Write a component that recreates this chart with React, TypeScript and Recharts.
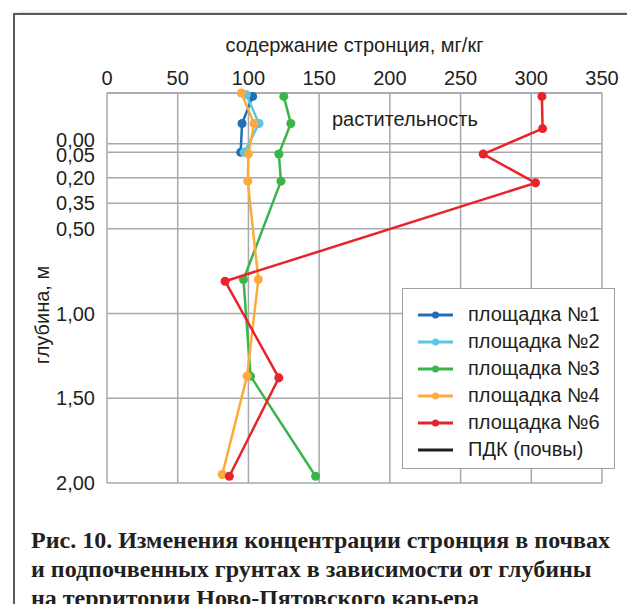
import { ScatterChart, Scatter, XAxis, YAxis, ZAxis, CartesianGrid, Legend } from 'recharts';

const xTicks = [0, 50, 100, 150, 200, 250, 300, 350];
const depthTicks = [0, 0.05, 0.2, 0.35, 0.5, 1, 1.5, 2];

// depth (m) and strontium content (mg/kg) per site; negative depth = vegetation
const depth1 = [-0.28, -0.12, 0.05];
const site1 = [103, 95.5, 94.5];
const depth2 = [-0.29, -0.12, 0.05];
const site2 = [98.5, 107.5, 97];
const depth3 = [-0.28, -0.12, 0.06, 0.22, 0.8, 1.37, 1.96];
const site3 = [125, 130, 121.5, 123, 96.5, 101.5, 147.5];
const depth4 = [-0.3, -0.12, 0.06, 0.22, 0.8, 1.37, 1.95];
const site4 = [95, 104, 100, 99.5, 107, 99, 81.5];
const depth6 = [-0.28, -0.09, 0.06, 0.23, 0.81, 1.38, 1.96];
const site6 = [307.5, 308, 266, 303, 83.5, 121.5, 86.5];

const series = [
  { name: 'площадка №1', color: '#1f70b8', depths: depth1, values: site1 },
  { name: 'площадка №2', color: '#5bc5e6', depths: depth2, values: site2 },
  { name: 'площадка №3', color: '#3bb54a', depths: depth3, values: site3 },
  { name: 'площадка №4', color: '#fbab3c', depths: depth4, values: site4 },
  { name: 'площадка №6', color: '#e8232a', depths: depth6, values: site6 },
];

const legendItems = [
  ...series.map(s => ({ name: s.name, color: s.color, dot: true })),
  { name: 'ПДК (почвы)', color: '#231f20', dot: false },
];

const font = '"Liberation Sans", Arial, sans-serif';
const textColor = '#231f20';
const gridColor = '#a7a9ac';

// 0,00 and 0,05 sit close together, nudge them apart like the original
function DepthTick(props: any) {
  const { x, y, payload } = props;
  const v = Number(payload.value);
  const shift = v === 0 ? -4 : v === 0.05 ? 3 : 0;
  return (
    <text
      x={x}
      y={y + shift}
      dy="0.355em"
      textAnchor="end"
      fontSize={20}
      fontFamily={font}
      fill={textColor}
    >
      {v.toFixed(2).replace('.', ',')}
    </text>
  );
}

function LegendBox() {
  return (
    <div
      style={{
        boxSizing: 'border-box',
        width: 213,
        height: 181,
        background: '#fff',
        border: '1.5px solid #a0a0a0',
        paddingTop: 12,
        fontFamily: font,
        fontSize: 20,
        color: textColor,
      }}
    >
      {legendItems.map(item => (
        <div key={item.name} style={{ display: 'flex', alignItems: 'center', height: 27 }}>
          <svg width={65} height={12} style={{ flex: 'none' }}>
            <line x1={15} y1={6} x2={50} y2={6} stroke={item.color} strokeWidth={3} />
            {item.dot && <circle cx={32.5} cy={6} r={3.5} fill={item.color} />}
          </svg>
          <span style={{ whiteSpace: 'nowrap' }}>{item.name}</span>
        </div>
      ))}
    </div>
  );
}

export default function App() {
  return (
    <div style={{ position: 'relative', width: 635, height: 612, margin: -8, overflow: 'hidden', background: '#fff' }}>
      <div
        style={{
          position: 'absolute',
          left: 13,
          top: 13,
          width: 617,
          height: 640,
          boxSizing: 'border-box',
          border: '2px solid #5a5a5a',
          boxShadow: '4px 0 3px #b5b5b5',
        }}
      />
      <ScatterChart
        width={635}
        height={612}
        margin={{ top: 63, right: 33, bottom: 129, left: 47 }}
        style={{ position: 'absolute', left: 0, top: 0 }}
      >
        <CartesianGrid stroke={gridColor} strokeWidth={1.5} />
        <XAxis
          type="number"
          dataKey="x"
          orientation="top"
          domain={[0, 350]}
          ticks={xTicks}
          interval={0}
          height={30}
          tickLine={false}
          tickSize={0}
          tickMargin={8}
          axisLine={{ stroke: gridColor, strokeWidth: 1.5 }}
          tick={{ fontSize: 20, fill: textColor, fontFamily: font }}
        />
        <YAxis
          type="number"
          dataKey="y"
          domain={[-0.3, 2]}
          reversed
          ticks={depthTicks}
          interval={0}
          width={60}
          tickLine={false}
          tickSize={0}
          tickMargin={12}
          axisLine={false}
          tick={<DepthTick />}
        />
        <ZAxis range={[40, 40]} />
        <Legend
          layout="vertical"
          align="center"
          verticalAlign="middle"
          wrapperStyle={{ left: 402, top: 288, width: 213, height: 181 }}
          content={() => <LegendBox />}
        />
        {series.map(s => (
          <Scatter
            key={s.name}
            name={s.name}
            data={s.depths.map((d, i) => ({ x: s.values[i], y: d }))}
            fill={s.color}
            line={{ stroke: s.color, strokeWidth: 2.5 }}
            lineType="joint"
            shape="circle"
            isAnimationActive={false}
          />
        ))}
      </ScatterChart>
      <div
        style={{
          position: 'absolute',
          left: 107,
          width: 495,
          top: 34,
          textAlign: 'center',
          fontFamily: font,
          fontSize: 20,
          color: textColor,
        }}
      >
        содержание стронция, мг/кг
      </div>
      <div
        style={{
          position: 'absolute',
          left: 332,
          top: 108,
          fontFamily: font,
          fontSize: 20,
          color: textColor,
        }}
      >
        растительность
      </div>
      <div
        style={{
          position: 'absolute',
          left: 42,
          top: 315,
          transform: 'translate(-50%, -50%) rotate(-90deg)',
          whiteSpace: 'nowrap',
          fontFamily: font,
          fontSize: 20,
          color: textColor,
        }}
      >
        глубина, м
      </div>
      <div
        style={{
          position: 'absolute',
          left: 31,
          top: 526,
          fontFamily: '"Liberation Serif", "Times New Roman", serif',
          fontWeight: 'bold',
          fontSize: 24,
          lineHeight: '29px',
          color: textColor,
          whiteSpace: 'nowrap',
        }}
      >
        Рис. 10. Изменения концентрации стронция в почвах
        <br />
        и подпочвенных грунтах в зависимости от глубины
        <br />
        на территории Ново-Пятовского карьера
      </div>
    </div>
  );
}
